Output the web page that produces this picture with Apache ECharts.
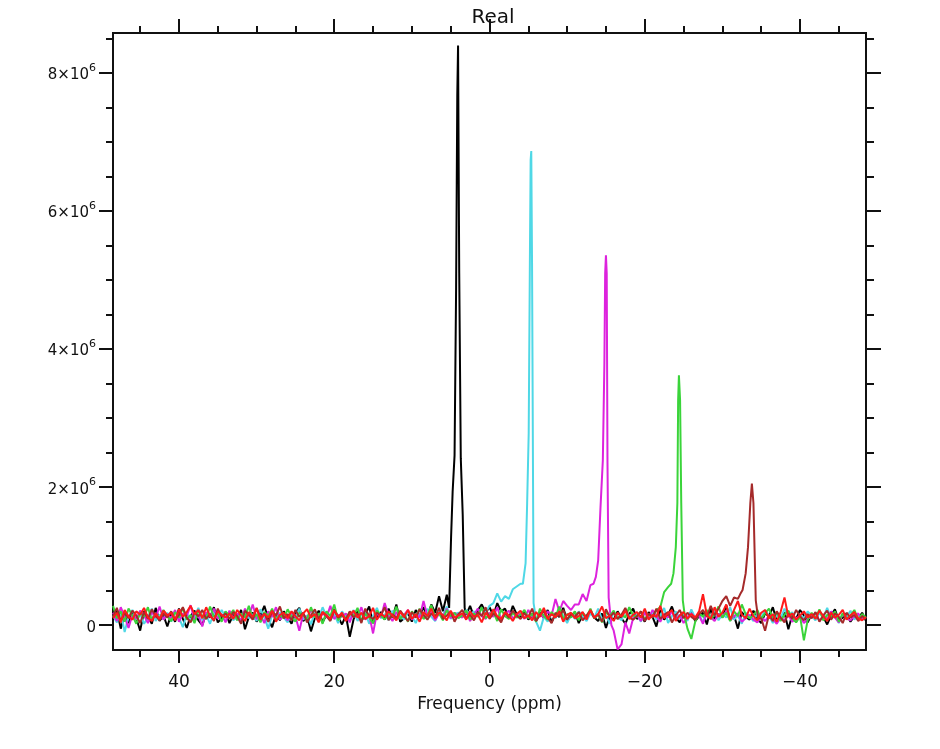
<!DOCTYPE html>
<html>
<head>
<meta charset="utf-8">
<title>Real</title>
<script src="https://cdn.jsdelivr.net/npm/echarts@6/dist/echarts.min.js"></script>
<style>
  html, body { margin: 0; padding: 0; background: #fff; }
  #spectrum { width: 940px; height: 749px; }
</style>
</head>
<body>
<div id="spectrum"></div>
<script>
// Spectra sampled every 0.5 ppm from 48.5 down to -48.5 ppm (195 points).
// Intensities are in units of 1e4.
const ppmStart = 48.5;
const ppmStep = 0.5;
const unit = 1e4;

const xMajorTicks = [-40, -20, 0, 20, 40];
const xMinorTicks = [-45, -35, -30, -25, -15, -10, -5, 5, 10, 15, 25, 30, 35, 45];
const yMajorTicks = [0, 2e6, 4e6, 6e6, 8e6];
const yMinorTicks = [5e5, 1e6, 1.5e6, 2.5e6, 3e6, 3.5e6, 4.5e6, 5e6, 5.5e6, 6.5e6, 7e6, 7.5e6, 8.5e6];

const blackNoise = [
  8, 22, -5, 15, 3, 18, 10, -8, 20, 12, 2, 25, 6, 14, -2,
  16, 5, 24, 9, -4, 13, 21, 7, 0, 17, 11, 26, 4, 10, 19,
  3, 15, 8, 22, -6, 12, 18, 5, 14, 28, 9, -3, 16, 7, 20,
  11, 2, 18, 25, 6, 13, -9, 10, 21, 4, 15, 8, 23, 12, 1,
  14, -17, 9, 20, 6, 16, 27, 3, 12, 19, 8, 24, 11, 30, 5,
  10, 18, 5, 22, 14, 26, 12, 30, 18, 42, 20, 44, 25, 20, 20,
  20, 15, 28, 12, 22, 30, 18, 26, 14, 32, 20, 24, 10, 28, 16,
  12, 20, 8, 14, 6, 18, 10, 22, 4, 16, 12, 25, 7, 13, 19,
  3, 15, 9, 21, 11, 6, 17, -4, 13, 8, 20, 10, 2, 16, 24,
  9, 14, 5, 19, 12, -2, 22, 8, 15, 27, 11, 4, 17, 10, 20,
  6, 13, 18, 1, 24, 9, 16, 11, 29, 7, 14, -5, 19, 12, 8,
  21, 10, 3, 17, 13, 26, 6, 11, 18, -6, 15, 9, 22, 14, 4,
  16, 8, 20, 12, 1, 14, 23, 7, 11, 17, 5, 13, 9, 18, 6
];
const cyanNoise = [
  14, 4, 19, -10, 12, 22, 8, 16, 2, 11, 24, 6, 15, 9, 18,
  5, 20, 11, -3, 17, 8, 13, 25, 7, 15, 2, 18, 10, 22, 12,
  19, 7, 14, 3, 21, 10, 16, 6, 23, 12, -5, 15, 9, 18, 11,
  4, 17, 12, 24, 8, 14, 1, 19, 10, 26, 13, 7, 16, 3, 20,
  12, 9, 22, 6, 15, 18, 2, 13, 25, 10, 16, 7, 21, 11, 14,
  8, 19, 13, 3, 17, 10, 24, 12, 6, 20, 14, 27, 9, 16, 18,
  12, 22, 15, 20, 14, 24, 18, 28, 32, 46, 34, 42, 38, 52, 56,
  60, 0, 0, 0, 8, -8, 12, 5, 18, 10, 22, 14, 3, 16, 9,
  20, 13, 6, 17, 11, 24, 8, 15, 2, 19, 12, 7, 21, 14, 10,
  16, 5, 22, 11, 18, 8, 14, 25, 3, 13, 20, 9, 17, 6, 23,
  10, 15, 4, 19, 12, 21, 7, 16, 11, 26, 8, 14, 2, 18, 13,
  6, 17, 11, 22, 14, 3, 16, 9, 24, 12, 19, 5, 15, 10, 20,
  13, 7, 18, 11, 25, 9, 14, 3, 17, 12, 21, 8, 15, 10, 12
];
const magentaNoise = [
  18, 6, 26, 12, -4, 15, 9, 21, 14, 3, 19, 11, 27, 8, 16,
  10, 22, 5, 17, 13, 29, 7, 15, -2, 19, 12, 24, 9, 16, 4,
  21, 11, 17, 6, 24, 13, 30, 9, 15, 3, 20, 12, 26, 8, 14,
  7, 19, 13, -8, 16, 10, 22, 14, 5, 18, 11, 28, 9, 15, 12,
  17, 4, 20, 12, 26, 8, 15, -12, 18, 11, 32, 14, 6, 19, 10,
  15, 22, 8, 16, 11, 35, 13, 19, 7, 17, 12, 24, 10, 18, 14,
  11, 20, 6, 15, 24, 13, 9, 18, 12, 26, 8, 16, 21, 10, 14,
  17, 9, 22, 12, 6, 16, 11, 20, 14, 38, 20, 35, 28, 22, 30,
  30, 45, 35, 58, 65, 0, 0, 0, 0, -8, -35, -28, 4, -12, 10,
  14, 6, 18, 9, 22, 13, 5, 16, 11, 20, 8, 15, 3, 12, 17,
  9, 14, 2, 18, 11, 6, 16, 12, 20, 7, 13, 17, 5, 10, 15,
  8, 4, 12, 6, 14, 9, 2, 11, 7, 15, 5, 10, 13, 3, 9,
  12, 18, 6, 14, 9, 20, 11, 4, 16, 10, 7, 13, 17, 8, 12
];
const greenNoise = [
  28, 10, 20, 5, 24, 14, 2, 18, 12, 26, 7, 16, 9, 22, 13,
  6, 19, 11, 25, 8, 15, 3, 21, 13, 9, 27, 12, 17, 5, 20,
  14, 22, 7, 17, 11, 28, 9, 16, 4, 19, 13, 24, 8, 15, 10,
  23, 12, 5, 18, 14, 9, 26, 11, 17, 2, 20, 13, 30, 7, 15,
  10, 19, 13, 25, 6, 16, 11, 3, 21, 14, 8, 18, 12, 27, 9,
  16, 5, 20, 12, 24, 9, 14, 29, 11, 17, 7, 22, 13, 18, 10,
  14, 21, 8, 17, 12, 26, 10, 15, 19, 6, 23, 13, 9, 18, 11,
  15, 22, 10, 17, 5, 24, 13, 8, 19, 12, 27, 9, 16, 11, 20,
  7, 18, 12, 24, 10, 15, 4, 19, 13, 21, 9, 16, 11, 26, 14,
  12, 20, 8, 16, 11, 22, 26, 48, 55, 0, 0, 0, 0, -5, -20,
  5, 18, 12, 22, 9, 15, 27, 11, 18, 6, 20, 13, 30, 16, 10,
  14, 22, 9, 17, 24, 11, 19, 6, 15, 21, 10, 4, 13, -22, 8,
  18, 10, 23, 7, 15, 12, 20, 5, 17, 9, 14, 22, 8, 16, 11
];
const brownNoise = [
  12, 25, 6, 18, 10, 21, 14, 3, 19, 9, 23, 13, 7, 17, 11,
  20, 8, 15, 26, 11, 4, 18, 13, 22, 9, 16, 6, 24, 12, 17,
  9, 19, 13, 2, 21, 15, 8, 25, 11, 17, 5, 20, 14, 27, 10,
  16, 7, 22, 12, 18, 4, 14, 23, 9, 19, 13, 6, 21, 11, 15,
  8, 20, 11, 17, 3, 24, 13, 9, 18, 14, 26, 7, 16, 10, 21,
  13, 6, 19, 11, 23, 15, 8, 17, 12, 25, 9, 14, 20, 5, 16,
  22, 10, 15, 7, 19, 13, 26, 9, 17, 12, 4, 18, 11, 21, 14,
  9, 17, 12, 24, 6, 15, 20, 11, 3, 18, 13, 22, 8, 16, 12,
  19, 7, 14, 21, 10, 16, 5, 23, 12, 18, 9, 15, 25, 11, 8,
  13, 20, 6, 17, 11, 24, 9, 15, 19, 4, 14, 22, 10, 18, 12,
  8, 16, 22, 12, 28, 14, 24, 35, 42, 28, 40, 38, 0, 0, 0,
  0, 0, 10, -8, 15, 6, 20, 11, 4, 17, 9, 22, 13, 7, 16,
  10, 19, 5, 14, 21, 8, 17, 12, 3, 18, 11, 15, 6, 13, 9
];
const redNoise = [
  10, 18, 4, 22, 13, 8, 20, 15, 25, 11, 6, 17, 9, 21, 14,
  18, 7, 23, 12, 19, 28, 16, 22, 10, 26, 13, 8, 20, 15, 11,
  17, 9, 22, 14, 6, 19, 12, 24, 8, 16, 11, 21, 5, 15, 18,
  10, 20, 13, 7, 17, 23, 11, 16, 4, 19, 14, 9, 22, 12, 18,
  6, 15, 21, 11, 18, 9, 13, 25, 8, 17, 12, 20, 14, 7, 19,
  12, 22, 9, 16, 5, 19, 13, 24, 10, 18, 15, 7, 21, 11, 14,
  17, 8, 20, 12, 15, 4, 18, 11, 23, 13, 9, 19, 14, 6, 16,
  21, 10, 14, 7, 19, 12, 25, 9, 16, 11, 20, 5, 15, 18, 10,
  13, 19, 8, 22, 11, 16, 27, 10, 14, 6, 18, 12, 21, 9, 15,
  19, 11, 24, 8, 15, 12, 28, 10, 17, 22, 6, 14, 19, 9, 16,
  11, 20, 45, 14, 9, 26, 12, 18, 30, 8, 22, 35, 15, 10, 24,
  13, 7, 18, 22, 10, 16, 5, 19, 40, 12, 17, 8, 14, 20, 11,
  16, 9, 21, 13, 6, 18, 11, 15, 22, 8, 14, 19, 10, 7, 12
];

// Peaks: [ppm, intensity in 1e4]
const blackPeak = [[5.2, 25], [4.95, 127], [4.75, 193], [4.5, 246], [4.3, 490], [4.15, 768], [4.05, 840], [3.9, 510], [3.7, 242], [3.45, 160], [3.2, 25]];
const cyanPeak = [[-4.3, 60], [-4.65, 90], [-4.85, 177], [-5.05, 278], [-5.2, 525], [-5.3, 674], [-5.38, 687], [-5.48, 525], [-5.68, 32], [-6.0, 5]];
const magentaPeak = [[-13.4, 60], [-13.7, 70], [-14.0, 94], [-14.3, 171], [-14.6, 239], [-14.8, 380], [-14.9, 510], [-15.0, 536], [-15.1, 510], [-15.2, 235], [-15.35, 40], [-15.7, 0]];
const greenPeak = [[-23.0, 55], [-23.4, 60], [-23.7, 75], [-24.0, 113], [-24.2, 177], [-24.3, 326], [-24.4, 362], [-24.55, 326], [-24.7, 177], [-24.9, 36], [-25.2, 10]];
const brownPeak = [[-32.3, 45], [-32.6, 51], [-33.0, 75], [-33.3, 113], [-33.6, 177], [-33.8, 205], [-34.0, 177], [-34.3, 36], [-34.6, 10]];

const spectra = [
  { name: 'black', color: '#000000', noise: blackNoise, peak: blackPeak },
  { name: 'cyan', color: '#4fd8e6', noise: cyanNoise, peak: cyanPeak },
  { name: 'magenta', color: '#dd22dd', noise: magentaNoise, peak: magentaPeak },
  { name: 'green', color: '#3ad43a', noise: greenNoise, peak: greenPeak },
  { name: 'brown', color: '#a52a2a', noise: brownNoise, peak: brownPeak },
  { name: 'red', color: '#ff1a1a', noise: redNoise, peak: [] }
];

function buildPoints(noise, peak) {
  const xs = peak.map(p => p[0]);
  const lo = Math.min(...xs);
  const hi = Math.max(...xs);
  const pts = [];
  noise.forEach((v, i) => {
    const ppm = ppmStart - i * ppmStep;
    if (peak.length && ppm > lo && ppm < hi) return;
    pts.push([ppm, v * unit]);
  });
  peak.forEach(p => pts.push([p[0], p[1] * unit]));
  pts.sort((a, b) => b[0] - a[0]);
  return pts;
}

const axisColor = '#111';
const fontFamily = 'DejaVu Sans, Liberation Sans, sans-serif';

function yLabel(v) {
  if (v === 0) return '{a|0}';
  return '{a|' + (v / 1e6) + '×10}{s|6}';
}
function xLabel(v) {
  return v < 0 ? '\u2212' + Math.abs(v) : String(v);
}

function xAxisCfg(position, ticks, len, withLabels) {
  return {
    type: 'value',
    position: position,
    min: -48.5,
    max: 48.5,
    inverse: true,
    splitLine: { show: false },
    axisLine: { show: true, onZero: false, lineStyle: { color: axisColor, width: 2 } },
    axisTick: { show: true, customValues: ticks, length: len, lineStyle: { color: axisColor, width: 2 } },
    axisLabel: withLabels ? {
      customValues: ticks, formatter: xLabel, margin: 24,
      fontSize: 17, color: axisColor, fontFamily: fontFamily
    } : { show: false },
    name: withLabels ? 'Frequency (ppm)' : '',
    nameLocation: 'middle',
    nameGap: 46,
    nameTextStyle: { fontSize: 17, color: axisColor, fontFamily: fontFamily }
  };
}

function yAxisCfg(position, ticks, len, withLabels) {
  return {
    type: 'value',
    position: position,
    min: -360000,
    max: 8580000,
    splitLine: { show: false },
    axisLine: { show: true, onZero: false, lineStyle: { color: axisColor, width: 2 } },
    axisTick: { show: true, customValues: ticks, length: len, lineStyle: { color: axisColor, width: 2 } },
    axisLabel: withLabels ? {
      customValues: ticks, formatter: yLabel, margin: 17,
      color: axisColor, fontFamily: fontFamily,
      rich: {
        a: { fontSize: 15, color: axisColor, fontFamily: fontFamily, verticalAlign: 'bottom', lineHeight: 20 },
        s: { fontSize: 11, color: axisColor, fontFamily: fontFamily, verticalAlign: 'top', lineHeight: 20, padding: [0, 0, 9, 0] }
      }
    } : { show: false }
  };
}

const chart = echarts.init(document.getElementById('spectrum'), null, { renderer: 'canvas' });

const option = {
  backgroundColor: '#ffffff',
  animation: false,
  title: {
    text: 'Real',
    left: 488,
    top: 3,
    textAlign: 'center',
    textStyle: { fontSize: 20, fontWeight: 'normal', color: axisColor, fontFamily: fontFamily }
  },
  grid: { left: 113, right: 74, top: 33, bottom: 99 },
  xAxis: [
    xAxisCfg('bottom', xMajorTicks, 13, true),
    xAxisCfg('bottom', xMinorTicks, 7, false),
    xAxisCfg('top', xMajorTicks, 14, false),
    xAxisCfg('top', xMinorTicks, 7, false)
  ],
  yAxis: [
    yAxisCfg('left', yMajorTicks, 14, true),
    yAxisCfg('left', yMinorTicks, 7, false),
    yAxisCfg('right', yMajorTicks, 15, false),
    yAxisCfg('right', yMinorTicks, 8, false)
  ],
  series: spectra.map(s => ({
    name: s.name,
    type: 'line',
    xAxisIndex: 0,
    yAxisIndex: 0,
    showSymbol: false,
    symbol: 'none',
    clip: true,
    data: buildPoints(s.noise, s.peak),
    lineStyle: { color: s.color, width: 2 },
    itemStyle: { color: s.color }
  }))
};

window.addEventListener('resize', function () {
  chart.resize();
});

option && chart.setOption(option);
</script>
</body>
</html>
